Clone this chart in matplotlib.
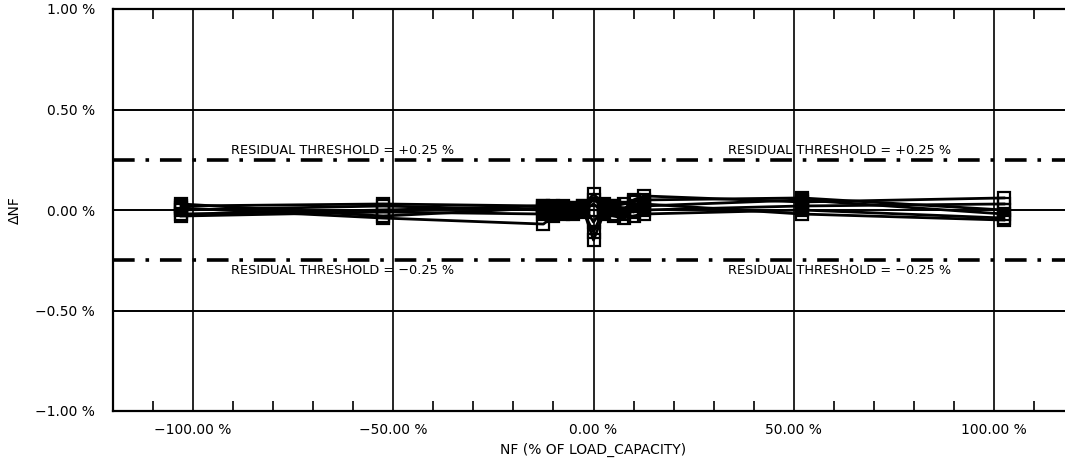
import matplotlib
matplotlib.use("Agg")
import matplotlib.pyplot as plt
from matplotlib.ticker import MultipleLocator, FixedLocator

# Load steps (% of load capacity)
nf = [-103.0, -52.5, -12.5, -10.0, -7.5, -5.0, -2.5, 0.0, 2.5, 5.0, 7.5, 10.0, 12.5, 52.0, 102.5]

# Residuals (%) for each run
s1 = [0.02, 0.03, 0.02, 0.02, 0.01, 0.01, 0.01, 0.05, 0.02, 0.02, 0.03, 0.04, 0.05, 0.06, 0.00]
s2 = [0.01, -0.04, -0.07, -0.03, -0.01, -0.02, 0.00, -0.15, -0.02, -0.03, -0.04, -0.03, -0.02, 0.00, -0.04]
s3 = [-0.02, 0.00, 0.02, 0.00, 0.01, 0.00, 0.02, 0.08, 0.03, 0.01, 0.00, 0.05, 0.07, 0.04, 0.06]
s4 = [0.00, 0.02, 0.00, 0.01, 0.00, -0.01, -0.01, -0.11, 0.00, -0.02, -0.02, 0.00, 0.03, -0.02, -0.05]
s5 = [-0.03, -0.01, -0.02, -0.01, -0.02, 0.00, 0.00, 0.03, -0.01, 0.00, 0.01, 0.02, 0.00, 0.02, 0.03]
s6 = [0.03, -0.03, 0.01, -0.02, 0.02, 0.01, 0.02, -0.06, 0.01, 0.02, 0.01, -0.01, 0.02, 0.05, -0.02]
series = [s1, s2, s3, s4, s5, s6]

threshold = 0.25
x_major = [-100, -50, 0, 50, 100]
y_major = [-1.0, -0.5, 0.0, 0.5, 1.0]

plt.rcParams['font.family'] = ['DejaVu Sans']

fig = plt.figure(figsize=(10.65, 4.59), dpi=100)
ax = fig.add_axes([113 / 1065, 1 - 411 / 459, (1074 - 113) / 1065, (411 - 9) / 459])
ax.set_xlim(-120, 120)
ax.set_ylim(-1.0, 1.0)

for v in x_major:
    ax.axvline(v, color='black', lw=1.2, zorder=1)
for v in [-0.5, 0.0, 0.5]:
    ax.axhline(v, color='black', lw=1.4, zorder=1)

for sgn in (1, -1):
    ax.axhline(sgn * threshold, color='black', lw=2.6, zorder=2,
               linestyle=(0, (6, 3, 1, 3)))

for s in series:
    ax.plot(nf, s, color='black', lw=2.0, marker='s', markersize=9,
            markerfacecolor='none', markeredgecolor='black', markeredgewidth=1.6, zorder=3)

fs_thr = 9.3
ax.text(-90.6, 0.265, 'RESIDUAL THRESHOLD = +0.25 %', fontsize=fs_thr, va='bottom', ha='left')
ax.text(33.7, 0.265, 'RESIDUAL THRESHOLD = +0.25 %', fontsize=fs_thr, va='bottom', ha='left')
ax.text(-90.6, -0.27, 'RESIDUAL THRESHOLD = \u22120.25 %', fontsize=fs_thr, va='top', ha='left')
ax.text(33.7, -0.27, 'RESIDUAL THRESHOLD = \u22120.25 %', fontsize=fs_thr, va='top', ha='left')

ax.xaxis.set_major_locator(FixedLocator(x_major))
ax.xaxis.set_minor_locator(MultipleLocator(10))
ax.set_xticklabels([f"{v:.2f} %".replace('-', '\u2212') for v in x_major])
ax.yaxis.set_major_locator(FixedLocator(y_major))
ax.set_yticklabels([f"{v:.2f} %".replace('-', '\u2212') for v in y_major])

ax.tick_params(axis='x', which='major', direction='in', length=0, pad=9, labelsize=10)
ax.tick_params(axis='x', which='minor', direction='in', length=7, width=1.2, top=True, bottom=True)
ax.tick_params(axis='y', which='both', length=0, pad=13, labelsize=10)

for sp in ax.spines.values():
    sp.set_linewidth(1.6)
ax.spines['right'].set_visible(False)

ax.set_xlabel('NF (% OF LOAD_CAPACITY)', fontsize=10)
ax.xaxis.set_label_coords((593 - 113) / (1074 - 113), -0.08)
ax.set_ylabel('\u0394NF', fontsize=10)
ax.yaxis.set_label_coords(-(113 - 22) / (1074 - 113), 0.5)

fig.savefig('out.png', dpi=100)
